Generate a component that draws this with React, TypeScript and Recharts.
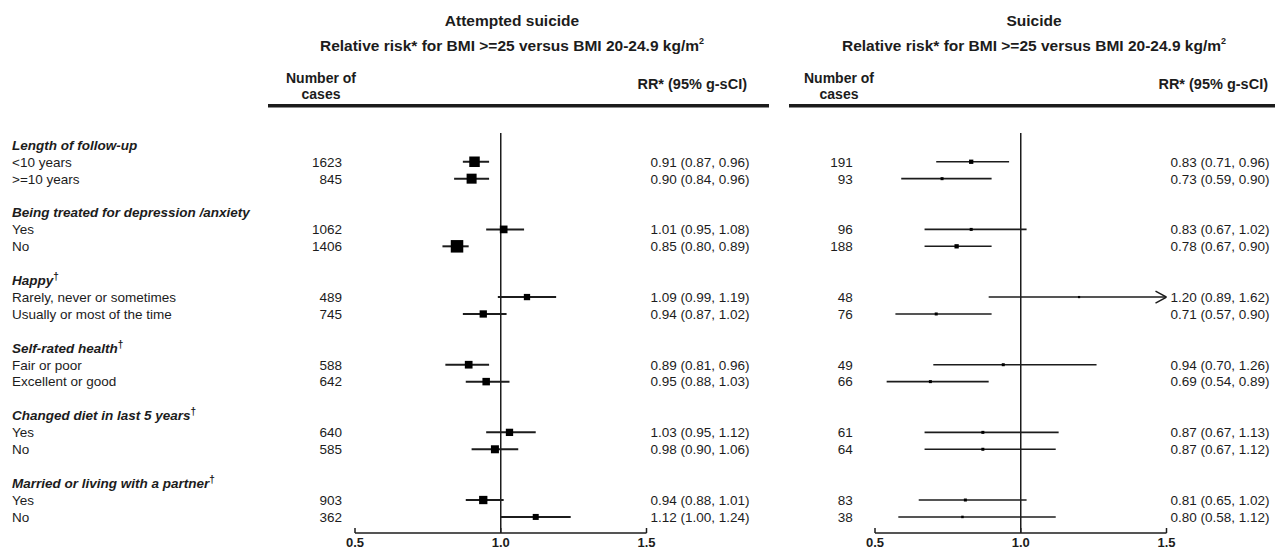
import React from 'react';
import { ScatterChart, Scatter, XAxis, YAxis, ErrorBar, ReferenceLine } from 'recharts';

// ---------------- data ----------------
const groupLabels = [
  'Length of follow-up',
  'Being treated for depression /anxiety',
  'Happy',
  'Self-rated health',
  'Changed diet in last 5 years',
  'Married or living with a partner',
];
const groupHasDagger = [false, false, true, true, true, true];
const subgroupLabels = [
  '<10 years', '>=10 years',
  'Yes', 'No',
  'Rarely, never or sometimes', 'Usually or most of the time',
  'Fair or poor', 'Excellent or good',
  'Yes', 'No',
  'Yes', 'No',
];

const attemptedCases = [1623, 845, 1062, 1406, 489, 745, 588, 642, 640, 585, 903, 362];
const attemptedRR = [0.91, 0.9, 1.01, 0.85, 1.09, 0.94, 0.89, 0.95, 1.03, 0.98, 0.94, 1.12];
const attemptedLo = [0.87, 0.84, 0.95, 0.8, 0.99, 0.87, 0.81, 0.88, 0.95, 0.9, 0.88, 1.0];
const attemptedHi = [0.96, 0.96, 1.08, 0.89, 1.19, 1.02, 0.96, 1.03, 1.12, 1.06, 1.01, 1.24];

const suicideCases = [191, 93, 96, 188, 48, 76, 49, 66, 61, 64, 83, 38];
const suicideRR = [0.83, 0.73, 0.83, 0.78, 1.2, 0.71, 0.94, 0.69, 0.87, 0.87, 0.81, 0.8];
const suicideLo = [0.71, 0.59, 0.67, 0.67, 0.89, 0.57, 0.7, 0.54, 0.67, 0.67, 0.65, 0.58];
const suicideHi = [0.96, 0.9, 1.02, 0.9, 1.62, 0.9, 1.26, 0.89, 1.13, 1.12, 1.02, 1.12];

const axisTicks = [0.5, 1.0, 1.5];

// ---------------- styles ----------------
const attemptedMarkerPx = [10.5, 10, 7.7, 12.5, 6.3, 7.3, 7.7, 7.5, 7.3, 8, 8.3, 6];
const suicideMarkerPx = [4.3, 3, 3, 4.3, 2.2, 3, 3, 3, 3, 3, 3, 2.5];

const FONT = '"Liberation Sans", Arial, Helvetica, sans-serif';
const INK = '#1c1c1c';
const BODY = 13.5;
const W = 1277;
const H = 550;
const ROW_DOMAIN: [number, number] = [-0.7, 22.95];
const X_DOMAIN: [number, number] = [0.5, 1.5];

// ---------------- tables ----------------
const rowTicks: number[] = [];
groupLabels.forEach((_, g) => {
  rowTicks.push(g * 4, g * 4 + 1, g * 4 + 2);
});

function buildPoints(rr: number[], lo: number[], hi: number[], px: number[]) {
  return rr.map((v, i) => {
    const g = Math.floor(i / 2);
    const row = g * 4 + 1 + (i % 2);
    const top = Math.min(hi[i], X_DOMAIN[1]);
    return { x: v, y: row, err: [v - lo[i], top - v], px: px[i] };
  });
}
function buildArrows(rr: number[], hi: number[]) {
  const out: { x: number; y: number }[] = [];
  rr.forEach((_, i) => {
    if (hi[i] > X_DOMAIN[1]) {
      const g = Math.floor(i / 2);
      out.push({ x: X_DOMAIN[1], y: g * 4 + 1 + (i % 2) });
    }
  });
  return out;
}

const attemptedPoints = buildPoints(attemptedRR, attemptedLo, attemptedHi, attemptedMarkerPx);
const suicidePoints = buildPoints(suicideRR, suicideLo, suicideHi, suicideMarkerPx);
const suicideArrows = buildArrows(suicideRR, suicideHi);

const fmt = (v: number) => v.toFixed(2);

function makeRowTick(
  cases: number[], rr: number[], lo: number[], hi: number[],
  labelX: number | null, countX: number, rrX: number,
) {
  return (props: any) => {
    const { y, payload } = props;
    const row = Number(payload.value);
    const g = Math.floor(row / 4);
    const k = row % 4;
    const common = { fontFamily: FONT, fontSize: BODY, fill: INK };
    if (k === 0) {
      if (labelX === null) return <g />;
      return (
        <text x={labelX} y={y} dy="0.36em" {...common} fontWeight="bold" fontStyle="italic">
          {groupLabels[g]}
          {groupHasDagger[g] ? (
            <tspan fontSize={10} dy={-5} fontStyle="normal">†</tspan>
          ) : null}
        </text>
      );
    }
    const i = g * 2 + (k - 1);
    return (
      <g>
        {labelX !== null ? (
          <text x={labelX} y={y} dy="0.36em" {...common}>{subgroupLabels[i]}</text>
        ) : null}
        <text x={countX} y={y} dy="0.36em" textAnchor="end" {...common}>{cases[i]}</text>
        <text x={rrX} y={y} dy="0.36em" {...common}>
          {`${fmt(rr[i])} (${fmt(lo[i])}, ${fmt(hi[i])})`}
        </text>
      </g>
    );
  };
}

const AxisTick = (props: any) => {
  const { x, y, payload } = props;
  return (
    <g>
      <line x1={x} x2={x} y1={y} y2={y - 5} stroke={INK} strokeWidth={1.5} />
      <text x={x} y={y + 14} textAnchor="middle" fontFamily={FONT} fontWeight="bold" fontSize={13} fill={INK}>
        {Number(payload.value).toFixed(1)}
      </text>
    </g>
  );
};

const SquareShape = (props: any) => {
  const { cx, cy, payload } = props;
  const s = payload.px;
  return <rect x={cx - s / 2} y={cy - s / 2} width={s} height={s} fill="#000" />;
};

const ArrowShape = (props: any) => {
  const { cx, cy } = props;
  return (
    <path
      d={`M${cx - 11},${cy - 6} L${cx},${cy} L${cx - 11},${cy + 6}`}
      fill="none"
      stroke={INK}
      strokeWidth={1.5}
    />
  );
};

type PanelProps = {
  plotLeft: number;
  plotRight: number;
  points: any[];
  arrows: { x: number; y: number }[];
  tick: (p: any) => React.ReactElement;
  barWidth: number;
};

function Panel({ plotLeft, plotRight, points, arrows, tick, barWidth }: PanelProps) {
  return (
    <div style={{ position: 'absolute', left: 0, top: 0 }}>
      <ScatterChart
        width={W}
        height={H}
        margin={{ top: 133, right: W - plotRight, bottom: 0, left: 0 }}
      >
        <XAxis
          type="number"
          dataKey="x"
          domain={X_DOMAIN}
          allowDataOverflow
          ticks={axisTicks}
          interval={0}
          height={17}
          tickSize={0}
          tickMargin={0}
          tickLine={false}
          axisLine={{ stroke: INK, strokeWidth: 1.5 }}
          tick={<AxisTick />}
        />
        <YAxis
          type="number"
          dataKey="y"
          domain={ROW_DOMAIN}
          allowDataOverflow
          reversed
          ticks={rowTicks}
          interval={0}
          width={plotLeft}
          axisLine={false}
          tickLine={false}
          tick={tick}
        />
        <ReferenceLine x={1} stroke={INK} strokeWidth={1.5} />
        <Scatter data={points} shape={<SquareShape />} isAnimationActive={false}>
          <ErrorBar dataKey="err" direction="x" width={0} stroke={INK} strokeWidth={barWidth} isAnimationActive={false} />
        </Scatter>
        {arrows.length > 0 ? (
          <Scatter data={arrows} shape={<ArrowShape />} isAnimationActive={false} />
        ) : null}
      </ScatterChart>
    </div>
  );
}

const attemptedTick = makeRowTick(attemptedCases, attemptedRR, attemptedLo, attemptedHi, 12, 342, 650.5);
const suicideTick = makeRowTick(suicideCases, suicideRR, suicideLo, suicideHi, null, 852.7, 1170.5);

function Headers() {
  const t = { fontFamily: FONT, fill: INK, fontWeight: 'bold' as const };
  const title = (cx: number, name: string) => (
    <g>
      <text x={cx} y={25.5} textAnchor="middle" fontSize={15.5} {...t}>{name}</text>
      <text x={cx} y={50.5} textAnchor="middle" fontSize={15.5} {...t}>
        Relative risk* for BMI &gt;=25 versus BMI 20-24.9 kg/m
        <tspan fontSize={9} dy={-7}>2</tspan>
      </text>
    </g>
  );
  const cols = (numCx: number, rrRight: number) => (
    <g>
      <text x={numCx} y={82.5} textAnchor="middle" fontSize={14} {...t}>Number of</text>
      <text x={numCx} y={98.5} textAnchor="middle" fontSize={14} {...t}>cases</text>
      <text x={rrRight} y={89} textAnchor="end" fontSize={14.5} {...t}>RR* (95% g-sCI)</text>
    </g>
  );
  return (
    <svg width={W} height={H} style={{ position: 'absolute', left: 0, top: 0 }}>
      {title(512, 'Attempted suicide')}
      {title(1034, 'Suicide')}
      {cols(321, 747)}
      {cols(839, 1268)}
      <rect x={268} y={104} width={501} height={3.5} fill={INK} />
      <rect x={789} y={104} width={486} height={3.5} fill={INK} />
    </svg>
  );
}

export default function App() {
  return (
    <div style={{ position: 'absolute', left: 0, top: 0, width: W, height: H, background: '#fff', overflow: 'hidden' }}>
      <Headers />
      <Panel plotLeft={355} plotRight={646.5} points={attemptedPoints} arrows={[]} tick={attemptedTick} barWidth={2} />
      <Panel plotLeft={875} plotRight={1166.5} points={suicidePoints} arrows={suicideArrows} tick={suicideTick} barWidth={1.6} />
    </div>
  );
}
